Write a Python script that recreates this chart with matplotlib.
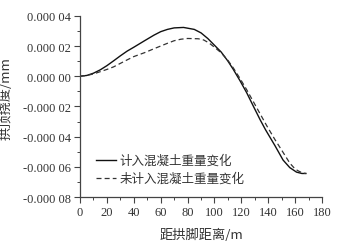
import matplotlib
matplotlib.use("Agg")
import matplotlib.pyplot as plt
from matplotlib.ticker import MultipleLocator

# distance from arch foot (m) and crown deflection (mm)
x_with = [0, 5, 10, 15, 20, 25, 30, 35, 40, 48, 55, 60, 65, 70, 77, 85, 90, 95,
          100, 105, 110, 114, 119, 124, 129, 134, 138, 145, 151, 156, 161, 165, 168]
y_with = [0, 0.05e-5, 0.2e-5, 0.42e-5, 0.7e-5, 1.02e-5, 1.35e-5, 1.66e-5, 1.92e-5,
          2.35e-5, 2.72e-5, 2.95e-5, 3.1e-5, 3.2e-5, 3.23e-5, 3.1e-5, 2.87e-5,
          2.5e-5, 2.05e-5, 1.6e-5, 1.0e-5, 0.45e-5, -0.3e-5, -1.1e-5, -2.0e-5,
          -2.89e-5, -3.55e-5, -4.6e-5, -5.55e-5, -6.05e-5, -6.35e-5, -6.44e-5, -6.44e-5]

x_without = [0, 5, 10, 15, 20, 25, 30, 35, 40, 48, 55, 60, 65, 70, 75, 80, 88,
             92, 96, 100, 105, 110, 114, 119, 124, 129, 134, 139, 145, 150, 156,
             160, 163, 166, 168]
y_without = [0, 0.05e-5, 0.15e-5, 0.3e-5, 0.45e-5, 0.62e-5, 0.85e-5, 1.08e-5,
             1.3e-5, 1.56e-5, 1.82e-5, 2.0e-5, 2.18e-5, 2.35e-5, 2.45e-5, 2.5e-5,
             2.48e-5, 2.4e-5, 2.2e-5, 1.92e-5, 1.55e-5, 1.05e-5, 0.55e-5, -0.15e-5,
             -0.9e-5, -1.7e-5, -2.5e-5, -3.3e-5, -4.2e-5, -4.9e-5, -5.75e-5,
             -6.15e-5, -6.3e-5, -6.42e-5, -6.44e-5]

y_ticks = [0.00004, 0.00002, 0.0, -0.00002, -0.00004, -0.00006, -0.00008]
y_tick_labels = ["0.000 04", "0.000 02", "0.000 00", "-0.000 02",
                 "-0.000 04", "-0.000 06", "-0.000 08"]
x_ticks = [0, 20, 40, 60, 80, 100, 120, 140, 160, 180]

cjk = ["Noto Sans CJK SC", "DejaVu Sans"]
plt.rcParams["font.family"] = ["Liberation Serif", "DejaVu Sans"]

fig = plt.figure(figsize=(3.39, 2.51), dpi=100)
ax = fig.add_axes([0.236, 0.211, 0.714, 0.722])

ax.plot(x_with, y_with, color="#111111", lw=1.0, label="计入混凝土重量变化")
ax.plot(x_without, y_without, color="#333333", lw=0.9, ls=(0, (4, 2.5)),
        label="未计入混凝土重量变化")

ax.set_xlim(0, 180)
ax.set_ylim(-0.00008, 0.00004)
ax.set_xticks(x_ticks)
ax.set_xticklabels([str(v) for v in x_ticks], family="Liberation Serif")
ax.set_yticks(y_ticks)
ax.set_yticklabels(y_tick_labels, family="Liberation Serif")
ax.xaxis.set_minor_locator(MultipleLocator(10))
ax.yaxis.set_minor_locator(MultipleLocator(0.00001))

for s in ["top", "right"]:
    ax.spines[s].set_visible(False)
for s in ["left", "bottom"]:
    ax.spines[s].set_color("#444444")
    ax.spines[s].set_linewidth(0.9)

ax.tick_params(which="major", direction="out", length=4, width=0.8,
               colors="#444444", labelsize=9, labelcolor="#333333", pad=2.5)
ax.tick_params(which="minor", direction="out", length=2, width=0.7, colors="#444444")

ax.set_xlabel("距拱脚距离/m", fontsize=9.5, color="#333333", labelpad=7, family=cjk)
ax.set_ylabel("拱顶挠度/mm", fontsize=9.5, color="#333333", labelpad=4, family=cjk)
ax.yaxis.set_label_coords(-0.28, 0.55)

leg = ax.legend(loc="lower left", bbox_to_anchor=(0.02, 0.005), frameon=False,
                handlelength=1.6, handletextpad=0.3, labelspacing=0.4,
                prop={"family": cjk, "size": 9})
for t in leg.get_texts():
    t.set_color("#333333")

plt.savefig("out.png", dpi=100)
plt.close()
